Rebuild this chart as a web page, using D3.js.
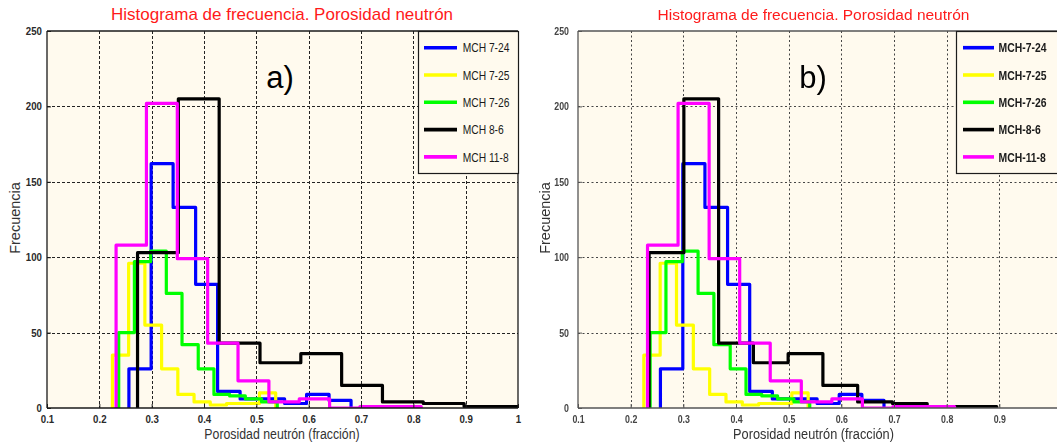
<!DOCTYPE html>
<html>
<head>
<meta charset="utf-8">
<script src="https://cdn.jsdelivr.net/npm/d3@7"></script>
<style>
  html, body { margin: 0; padding: 0; background: #ffffff; }
  svg { display: block; }
</style>
</head>
<body>
<svg id="chart" width="1057" height="447"></svg>
<script>
// ---- Histogram data: 10 bins per well (bin edges and counts) ----
const seriesNamesA = ["MCH 7-24", "MCH 7-25", "MCH 7-26", "MCH 8-6", "MCH 11-8"];
const seriesNamesB = ["MCH-7-24", "MCH-7-25", "MCH-7-26", "MCH-8-6", "MCH-11-8"];

const edgesMCH724 = [0.2565, 0.299, 0.341, 0.384, 0.426, 0.469, 0.511, 0.554, 0.596, 0.639, 0.681];
const countsMCH724 = [26, 162, 133, 82, 11, 6, 6, 3, 9, 5];

const edgesMCH725 = [0.225, 0.256, 0.287, 0.319, 0.350, 0.381, 0.412, 0.443, 0.475, 0.506, 0.537];
const countsMCH725 = [35, 96, 55, 26, 9, 4, 2, 3, 3, 10];

const edgesMCH726 = [0.237, 0.267, 0.298, 0.328, 0.358, 0.389, 0.419, 0.449, 0.479, 0.510, 0.540];
const countsMCH726 = [50, 97, 104, 76, 42, 26, 9, 8, 6, 4];

// MCH 8-6 binned over two different porosity ranges (panel a and panel b)
const edgesMCH86a = [0.273, 0.351, 0.429, 0.507, 0.585, 0.663, 0.741, 0.819, 0.897, 0.975, 1.053];
const edgesMCH86b = [0.235, 0.301, 0.367, 0.433, 0.499, 0.565, 0.631, 0.697, 0.763, 0.829, 0.895];
const countsMCH86 = [103, 205, 43, 30, 36, 15, 4, 3, 1, 1];

const edgesMCH118 = [0.232, 0.290, 0.349, 0.407, 0.465, 0.524, 0.582, 0.640, 0.698, 0.757, 0.815];
const countsMCH118 = [108, 202, 99, 43, 18, 4, 6, 0, 1, 1];

const yTicks = [0, 50, 100, 150, 200, 250];
const xTicksA = [0.1, 0.2, 0.3, 0.4, 0.5, 0.6, 0.7, 0.8, 0.9, 1.0];
const xTickLabelsA = ["0.1", "0.2", "0.3", "0.4", "0.5", "0.6", "0.7", "0.8", "0.9", "1"];
const xTicksB = [0.1, 0.2, 0.3, 0.4, 0.5, 0.6, 0.7, 0.8, 0.9];
const xTickLabelsB = ["0.1", "0.2", "0.3", "0.4", "0.5", "0.6", "0.7", "0.8", "0.9"];

const chartTitle = "Histograma de frecuencia. Porosidad neutrón";
const xAxisTitle = "Porosidad neutrón (fracción)";
const yAxisTitle = "Frecuencia";
const panelTags = ["a)", "b)"];

const seriesColors = ["#0000ff", "#ffff00", "#00ff00", "#000000", "#ff00ff"];

// ---- Layout ----
const svg = d3.select("#chart");
const yTop = 31, yBot = 408;
const plotBg = "#fffaee";
const defs = svg.append("defs");
defs.append("filter").attr("id", "soft")
  .attr("x", "-5%").attr("y", "-5%").attr("width", "110%").attr("height", "110%")
  .append("feGaussianBlur").attr("stdDeviation", 0.45);

function addText(g, o) {
  const t = g.append("text")
    .attr("transform", `translate(${o.x},${o.y}) rotate(${o.rotate || 0}) scale(${o.sx || 1},1)`)
    .attr("text-anchor", o.anchor || "start")
    .attr("font-family", o.family || "'Liberation Sans', Arial, sans-serif")
    .attr("font-size", o.size)
    .attr("font-weight", o.weight || "normal")
    .attr("fill", o.fill || "#000")
    .text(o.text);
  return t;
}

function drawPanel(p) {
  const g = svg.append("g");
  if (p.soft) g.attr("filter", "url(#soft)");

  const x = d3.scaleLinear().domain([0.1, 1.0]).range([p.x0, p.x1]);
  const y = d3.scaleLinear().domain([0, 250]).range([yBot, yTop]);

  // plot background
  g.append("rect")
    .attr("x", p.x0).attr("y", yTop)
    .attr("width", p.bgRight - p.x0).attr("height", yBot - yTop)
    .attr("fill", plotBg);

  // grid
  const grid = g.append("g")
    .attr("stroke", p.gridColor).attr("stroke-width", 1)
    .attr("stroke-dasharray", p.gridDash).attr("fill", "none");
  grid.selectAll("line.gx").data(p.gridX).join("line").attr("class", "gx")
    .attr("x1", d => Math.round(x(d)) + 0.5).attr("x2", d => Math.round(x(d)) + 0.5)
    .attr("y1", yTop).attr("y2", yBot);
  grid.selectAll("line.gy").data(yTicks.slice(1, -1)).join("line").attr("class", "gy")
    .attr("x1", p.x0).attr("x2", p.bgRight)
    .attr("y1", d => Math.round(y(d)) + 0.5).attr("y2", d => Math.round(y(d)) + 0.5);

  // histogram stairs, clipped to the axes box
  const clipId = "clip-" + p.id;
  defs.append("clipPath").attr("id", clipId).append("rect")
    .attr("x", p.x0).attr("y", yTop - 3)
    .attr("width", p.bgRight - p.x0).attr("height", yBot - yTop + 3);

  const stair = d3.line()
    .x(d => x(d[0])).y(d => y(d[1]))
    .curve(d3.curveStepAfter);

  const lines = g.append("g").attr("clip-path", `url(#${clipId})`);
  p.series.forEach((s, i) => {
    const pts = [[s.edges[0], 0]];
    s.counts.forEach((c, k) => pts.push([s.edges[k], c]));
    pts.push([s.edges[s.edges.length - 1], s.counts[s.counts.length - 1]]);
    pts.push([s.edges[s.edges.length - 1], 0]);
    lines.append("path")
      .attr("d", stair(pts))
      .attr("fill", "none")
      .attr("stroke", seriesColors[i])
      .attr("stroke-width", 3.2)
      .attr("stroke-linejoin", "round")
      .attr("stroke-linecap", "round");
  });

  // axes (ticks point inward)
  const xAxis = d3.axisBottom(x)
    .tickValues(p.xTicks)
    .tickFormat((d, i) => p.xTickLabels[i])
    .tickSizeInner(-4).tickSizeOuter(0).tickPadding(7);
  const gx = g.append("g").attr("transform", `translate(0,${yBot})`).call(xAxis);
  gx.select(".domain").remove();
  gx.selectAll(".tick line").attr("stroke", p.axisColor);
  gx.selectAll(".tick text")
    .attr("font-family", "'Liberation Sans', Arial, sans-serif")
    .attr("font-size", 11).attr("font-weight", p.tickWeight)
    .attr("fill", p.tickColor)
    .attr("transform", `scale(${p.tickSx},1)`);

  const yAxis = d3.axisLeft(y)
    .tickValues(yTicks)
    .tickSizeInner(-4).tickSizeOuter(0).tickPadding(p.yTickPad);
  const gy = g.append("g").attr("transform", `translate(${p.x0},0)`).call(yAxis);
  gy.select(".domain").remove();
  gy.selectAll(".tick line").attr("stroke", p.axisColor);
  gy.selectAll(".tick text")
    .attr("font-family", "'Liberation Sans', Arial, sans-serif")
    .attr("font-size", 11).attr("font-weight", p.tickWeight)
    .attr("fill", p.tickColor)
    .attr("x", -p.yTickPad / p.tickSx)
    .attr("transform", `scale(${p.tickSx},1)`);

  // axes box
  const frame = g.append("g").attr("stroke", p.axisColor).attr("stroke-width", 1.3).attr("fill", "none");
  frame.append("line").attr("x1", p.x0).attr("x2", p.x0).attr("y1", yTop).attr("y2", yBot);
  frame.append("line").attr("x1", p.x0).attr("x2", p.bgRight).attr("y1", yBot).attr("y2", yBot);
  frame.append("line").attr("x1", p.x0).attr("x2", p.bgRight).attr("y1", yTop).attr("y2", yTop);
  if (p.frameRight) {
    frame.append("line").attr("x1", p.bgRight).attr("x2", p.bgRight).attr("y1", yTop).attr("y2", yBot);
  }

  // legend
  const lg = g.append("g");
  lg.append("rect")
    .attr("x", p.legX + 0.5).attr("y", yTop + 0.5)
    .attr("width", p.legW).attr("height", 142)
    .attr("fill", plotBg).attr("stroke", "#1a1a1a").attr("stroke-width", 1.2);
  p.names.forEach((name, i) => {
    const cy = yTop + 16.7 + i * 27.3;
    lg.append("line")
      .attr("x1", p.legX + p.legLine[0]).attr("x2", p.legX + p.legLine[1])
      .attr("y1", cy).attr("y2", cy)
      .attr("stroke", seriesColors[i]).attr("stroke-width", 3.6);
    addText(lg, {
      x: p.legX + p.legTextX, y: cy + 4.6, text: name,
      size: 13, sx: p.legSx, weight: p.legWeight, fill: "#1a1a1a"
    });
  });

  // titles
  addText(g, { x: p.titleX, y: 20, text: chartTitle, size: p.titleSize, sx: p.titleSx, anchor: "middle", fill: "#ff1a1a" });
  addText(g, { x: p.titleX, y: 438.5, text: xAxisTitle, size: 14.5, sx: p.xlabSx, anchor: "middle", fill: "#333" });
  addText(g, { x: p.ylabX, y: 218, text: yAxisTitle, size: 14.5, rotate: -90, anchor: "middle", fill: "#333" });
  addText(g, { x: p.tagX, y: 87.5, text: p.tag, size: 31, anchor: "middle", fill: "#000" });
}

drawPanel({
  id: "a", x0: 47, x1: 518, bgRight: 518, frameRight: true, soft: false,
  gridX: xTicksA.slice(1, -1), gridDash: "3,2", gridColor: "#222",
  xTicks: xTicksA, xTickLabels: xTickLabelsA,
  axisColor: "#1a1a1a", tickColor: "#2a2a2a", tickWeight: "bold", tickSx: 0.88, yTickPad: 5,
  names: seriesNamesA, legX: 418, legW: 100, legLine: [6, 39], legTextX: 44.7, legSx: 0.79, legWeight: "normal",
  titleX: 282, titleSize: 17, titleSx: 1.0, xlabSx: 0.85, ylabX: 20, tagX: 280, tag: panelTags[0],
  series: [
    { edges: edgesMCH724, counts: countsMCH724 },
    { edges: edgesMCH725, counts: countsMCH725 },
    { edges: edgesMCH726, counts: countsMCH726 },
    { edges: edgesMCH86a, counts: countsMCH86 },
    { edges: edgesMCH118, counts: countsMCH118 }
  ]
});

drawPanel({
  id: "b", x0: 578, x1: 1052, bgRight: 1070, frameRight: false, soft: true,
  gridX: xTicksB.slice(1), gridDash: "2,2.5", gridColor: "#444",
  xTicks: xTicksB, xTickLabels: xTickLabelsB,
  axisColor: "#555", tickColor: "#444", tickWeight: "bold", tickSx: 0.8, yTickPad: 9,
  names: seriesNamesB, legX: 956, legW: 120, legLine: [7, 38], legTextX: 42.5, legSx: 0.8, legWeight: "bold",
  titleX: 813.5, titleSize: 15.5, titleSx: 1.0, xlabSx: 0.88, ylabX: 550, tagX: 813, tag: panelTags[1],
  series: [
    { edges: edgesMCH724, counts: countsMCH724 },
    { edges: edgesMCH725, counts: countsMCH725 },
    { edges: edgesMCH726, counts: countsMCH726 },
    { edges: edgesMCH86b, counts: countsMCH86 },
    { edges: edgesMCH118, counts: countsMCH118 }
  ]
});
</script>
</body>
</html>
